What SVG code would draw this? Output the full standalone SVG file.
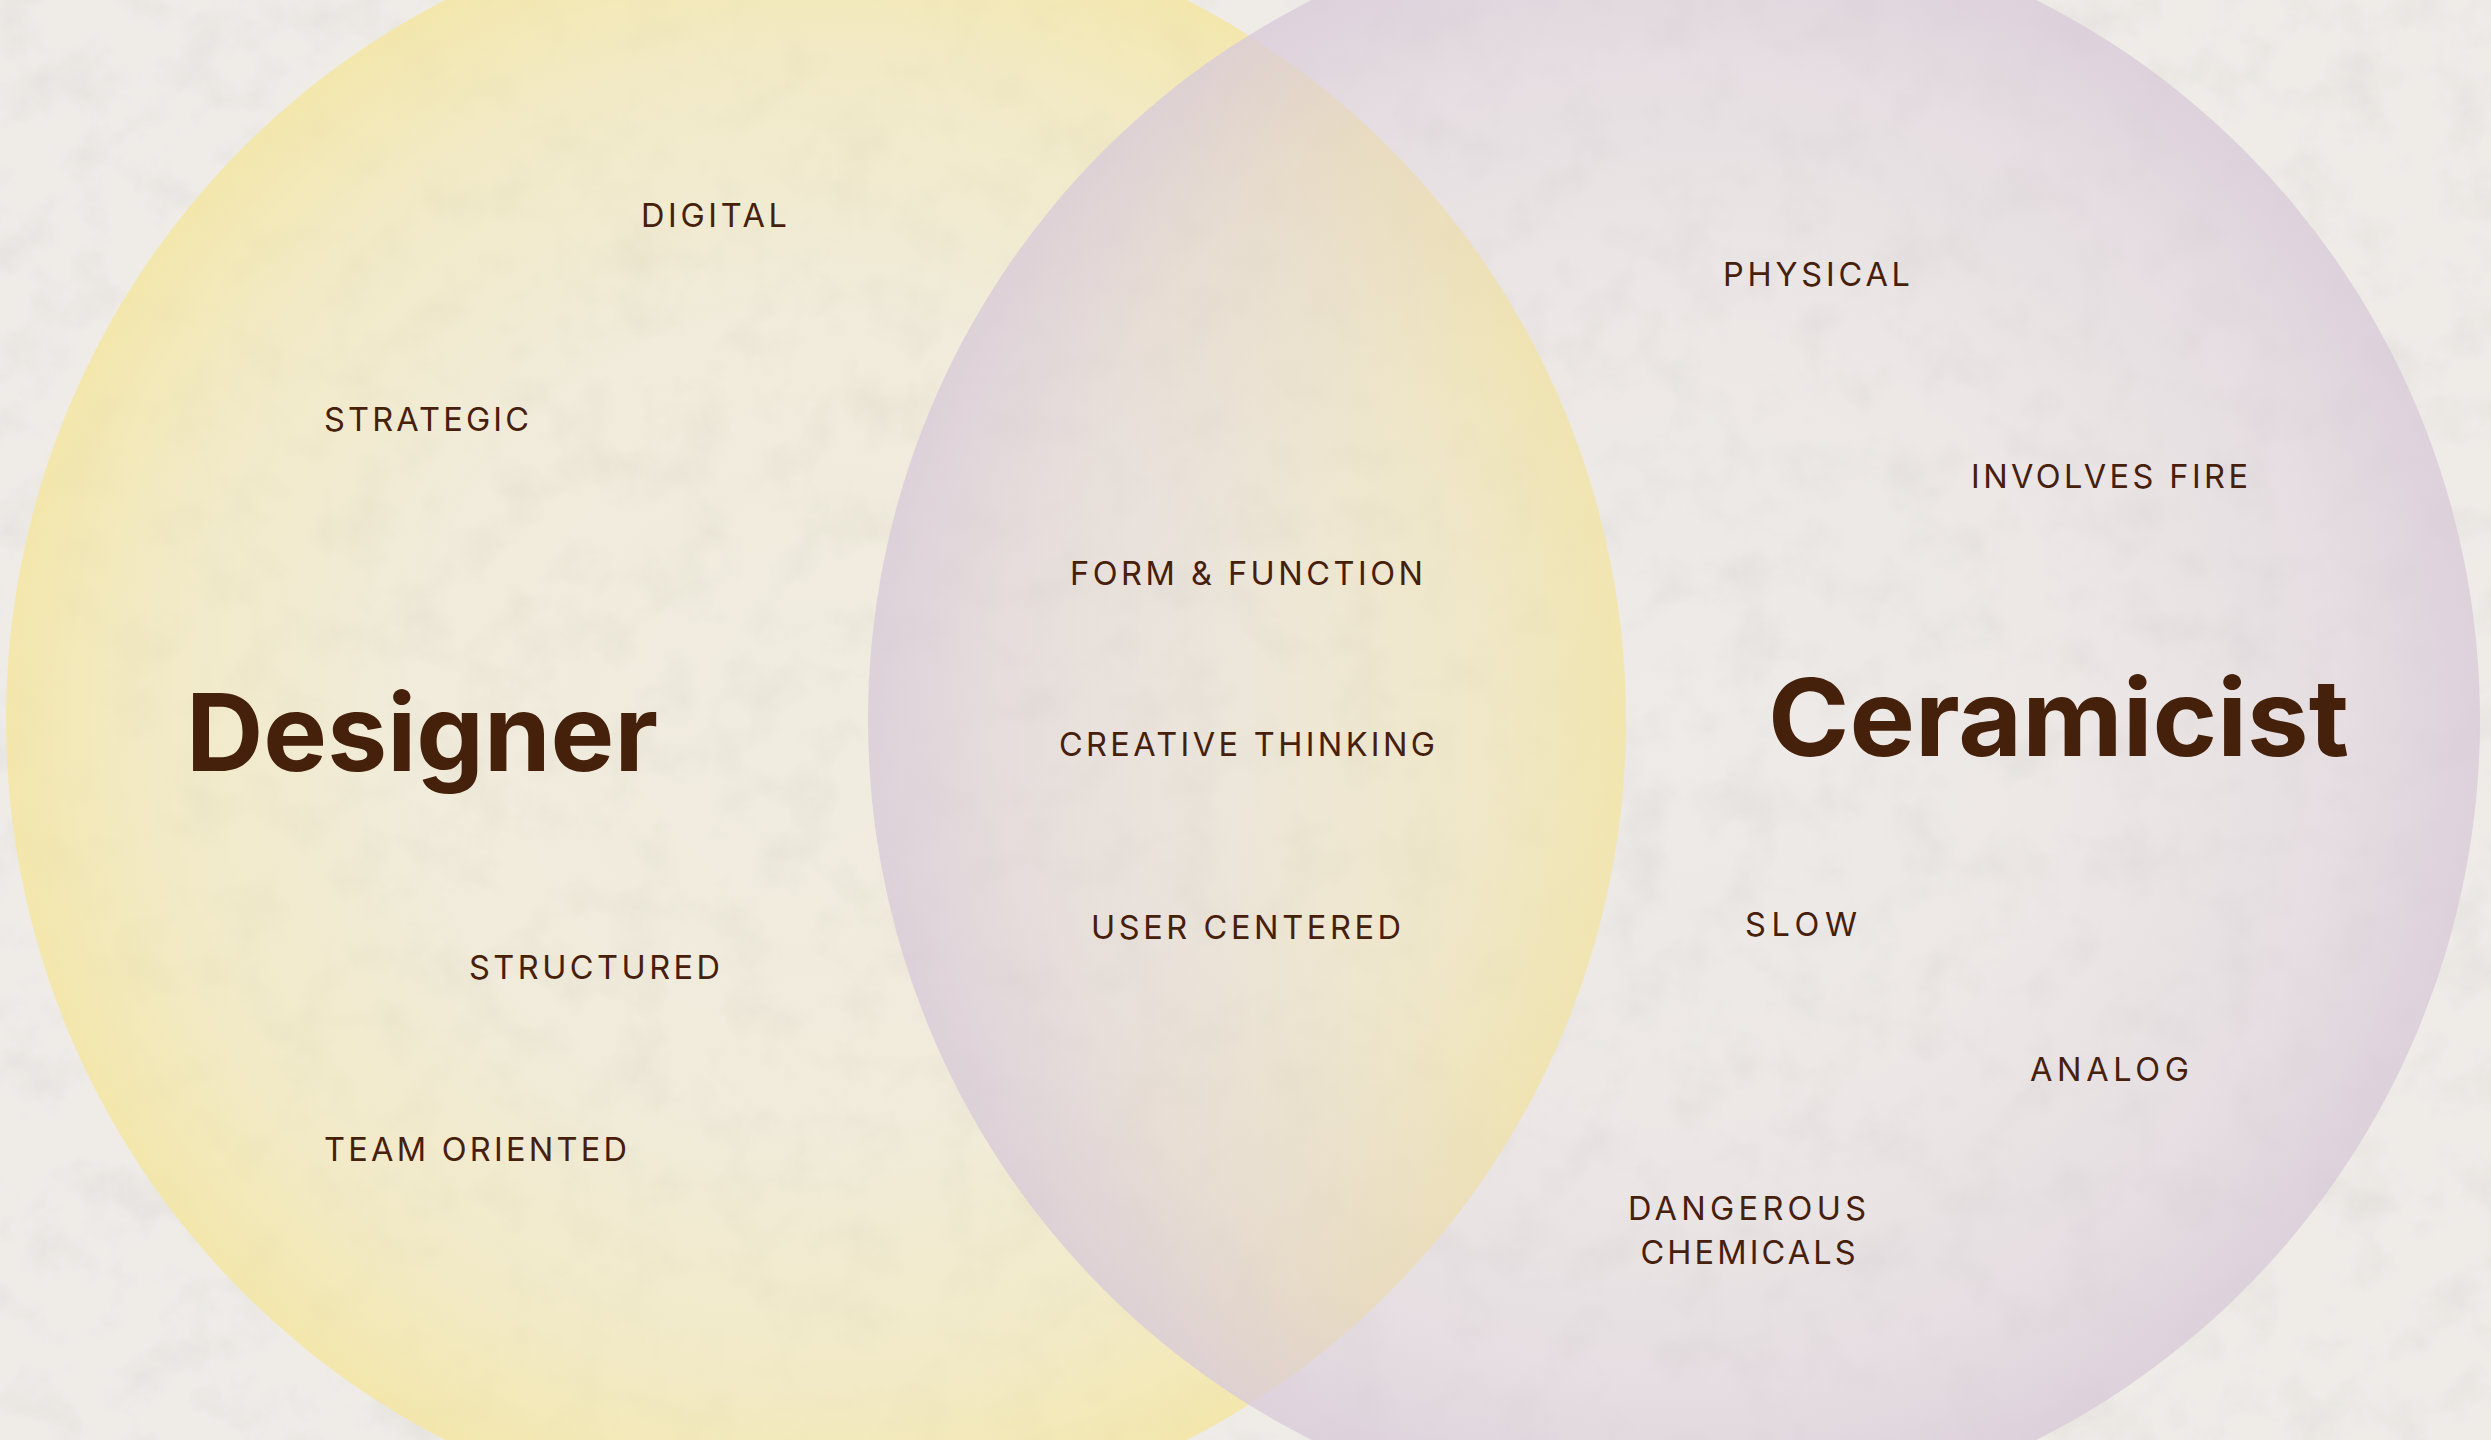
<svg xmlns="http://www.w3.org/2000/svg" width="2491" height="1440" viewBox="0 0 2491 1440">
  <defs>
    <style>
      .lbl { font-family: Inter, "DejaVu Sans", sans-serif; font-size: 32.5px; font-weight: 400; fill: #46200b; }
      .ttl { font-family: Inter, "Liberation Sans", sans-serif; font-size: 107px; font-weight: 700; fill: #45200a; }
    </style>
    <radialGradient id="gYellow" cx="0.5" cy="0.5" r="0.5">
      <stop offset="0" stop-color="#f6e9a6" stop-opacity="0.12"/>
      <stop offset="0.5" stop-color="#f6e9a6" stop-opacity="0.2"/>
      <stop offset="0.82" stop-color="#f5e8a4" stop-opacity="0.5"/>
      <stop offset="1" stop-color="#f4e6a0" stop-opacity="0.82"/>
    </radialGradient>
    <radialGradient id="gPurple" cx="0.5" cy="0.5" r="0.5">
      <stop offset="0" stop-color="#dccfdc" stop-opacity="0.05"/>
      <stop offset="0.5" stop-color="#dccfdc" stop-opacity="0.14"/>
      <stop offset="0.82" stop-color="#dbcdda" stop-opacity="0.45"/>
      <stop offset="1" stop-color="#d9cbd9" stop-opacity="0.8"/>
    </radialGradient>
    <filter id="tex" x="0" y="0" width="100%" height="100%">
      <feTurbulence type="fractalNoise" baseFrequency="0.018" numOctaves="5" seed="11"/>
      <feColorMatrix type="matrix" values="0 0 0 0 0.5  0 0 0 0 0.49  0 0 0 0 0.47  0.9 0 0 0 -0.42"/>
    </filter>
  </defs>

  <g id="background">
    <rect width="2491" height="1440" fill="#efece8"/>
    <rect width="2491" height="1440" filter="url(#tex)" opacity="0.45"/>
  </g>

  <g id="designer">
    <circle cx="816" cy="720" r="810" fill="url(#gYellow)"/>
    <text class="ttl" x="186" y="771" textLength="472" lengthAdjust="spacingAndGlyphs">Designer</text>
    <text class="lbl" x="641" y="227" textLength="146" lengthAdjust="spacing">DIGITAL</text>
    <text class="lbl" x="324" y="431" textLength="205" lengthAdjust="spacing">STRATEGIC</text>
    <text class="lbl" x="469" y="979" textLength="251" lengthAdjust="spacing">STRUCTURED</text>
    <text class="lbl" x="324" y="1161" textLength="303" lengthAdjust="spacing">TEAM ORIENTED</text>
  </g>

  <g id="ceramicist">
    <circle cx="1674" cy="720" r="806" fill="url(#gPurple)"/>
    <text class="ttl" x="1768" y="756" textLength="581" lengthAdjust="spacingAndGlyphs">Ceramicist</text>
    <text class="lbl" x="1723" y="286" textLength="187" lengthAdjust="spacing">PHYSICAL</text>
    <text class="lbl" x="1971" y="488" textLength="277" lengthAdjust="spacing">INVOLVES FIRE</text>
    <text class="lbl" x="1745" y="936" textLength="112" lengthAdjust="spacing">SLOW</text>
    <text class="lbl" x="2030" y="1081" textLength="159" lengthAdjust="spacing">ANALOG</text>
    <text class="lbl" x="1747" y="1220" text-anchor="middle" textLength="238" lengthAdjust="spacing">DANGEROUS</text>
    <text class="lbl" x="1748" y="1264" text-anchor="middle" textLength="215" lengthAdjust="spacing">CHEMICALS</text>
  </g>

  <g id="overlap">
    <text class="lbl" x="1070" y="585" textLength="353" lengthAdjust="spacing">FORM &amp; FUNCTION</text>
    <text class="lbl" x="1059" y="756" textLength="376" lengthAdjust="spacing">CREATIVE THINKING</text>
    <text class="lbl" x="1091" y="939" textLength="310" lengthAdjust="spacing">USER CENTERED</text>
  </g>
</svg>
